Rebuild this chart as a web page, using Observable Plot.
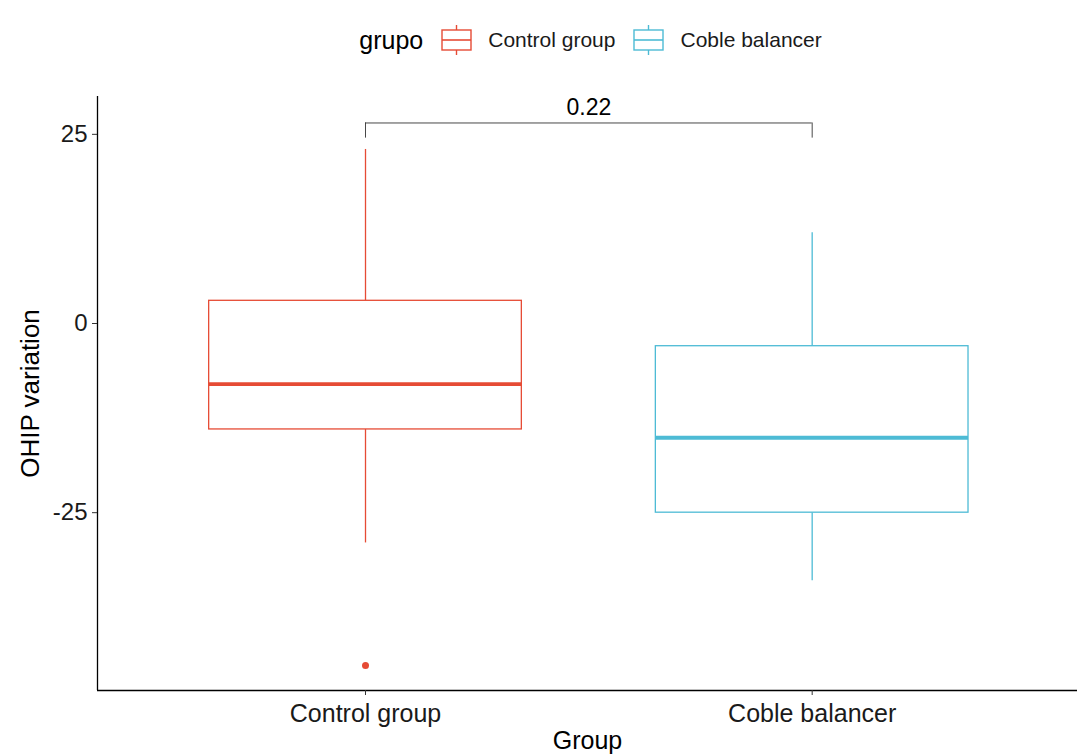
<!DOCTYPE html>
<html>
<head>
<meta charset="utf-8">
<script src="https://cdn.jsdelivr.net/npm/d3@7"></script>
<script src="https://cdn.jsdelivr.net/npm/@observablehq/plot@0.6"></script>
<style>
  body { margin: 0; background: #fff; font-family: "Liberation Sans", Arial, sans-serif; }
  #legend { height: 70px; padding-top: 10px; box-sizing: border-box; display: flex; align-items: center; justify-content: center; padding-left: 122px; }
  #legend .title { font-size: 25px; color: #000; margin-right: 18px; }
  #legend .item { display: flex; align-items: center; font-size: 21px; color: #1a1a1a; margin-right: 18px; }
  #legend svg { margin-right: 16px; }
</style>
</head>
<body>
<div id="legend"></div>
<div id="chart"></div>
<script>
// Data
const groups = ["Control group", "Coble balancer"];
const colors = ["#E64B35", "#4DBBD5"];
const q1 = [-14, -25];
const median = [-8, -15.1];
const q3 = [3, -3];
const whiskerLow = [-29, -34];
const whiskerHigh = [23, 12];
const outlierGroup = ["Control group"];
const outlierValue = [-45.2];
const pLabel = "0.22";
const yTicks = [-25, 0, 25];

const boxes = groups.map((g, i) => ({
  group: g, pos: i + 1, q1: q1[i], med: median[i], q3: q3[i],
  lo: whiskerLow[i], hi: whiskerHigh[i], color: colors[i]
}));
const outliers = outlierGroup.map((g, i) => ({
  pos: groups.indexOf(g) + 1, value: outlierValue[i], color: colors[groups.indexOf(g)]
}));
const bracketY = 26.5, bracketTip = 24.5;

// Legend (HTML)
const legend = document.getElementById("legend");
legend.innerHTML = `<span class="title">grupo</span>` + groups.map((g, i) =>
  `<span class="item"><svg width="31" height="32" viewBox="0 0 31 32">
     <line x1="15.5" y1="1" x2="15.5" y2="6" stroke="${colors[i]}" stroke-width="1.4"/>
     <line x1="15.5" y1="26" x2="15.5" y2="31" stroke="${colors[i]}" stroke-width="1.4"/>
     <rect x="1" y="6" width="29" height="20" fill="none" stroke="${colors[i]}" stroke-width="1.4"/>
     <line x1="1" y1="16" x2="30" y2="16" stroke="${colors[i]}" stroke-width="1.6"/>
   </svg>${g}</span>`).join("");

const chart = Plot.plot({
  width: 1077,
  height: 686,
  marginTop: 26,
  marginBottom: 66,
  marginLeft: 97,
  marginRight: 0,
  style: { fontFamily: "Liberation Sans, Arial, sans-serif", background: "white", overflow: "visible" },
  x: { domain: [0.4, 2.594], axis: null },
  y: { domain: [-48.5, 30], axis: null },
  marks: [
    // axes lines
    Plot.ruleX([0.4], { stroke: "#000", strokeWidth: 1.3 }),
    Plot.ruleY([-48.5], { stroke: "#000", strokeWidth: 1.3 }),
    Plot.axisY(yTicks, {
      tickSize: 5, tickPadding: 5, fontSize: 24, fill: "#1a1a1a",
      tickFormat: d => String(d), label: null, stroke: "#333"
    }),
    Plot.axisX([1, 2], {
      tickSize: 5, tickPadding: 9, fontSize: 25, fill: "#1a1a1a",
      tickFormat: d => groups[d - 1], label: null, stroke: "#333"
    }),
    Plot.text(["OHIP variation"], {
      frameAnchor: "left", textAnchor: "middle", rotate: -90, dx: -67, fontSize: 26, fill: "#000"
    }),
    Plot.text(["Group"], {
      frameAnchor: "bottom", lineAnchor: "middle", dy: 50, fontSize: 25, fill: "#000"
    }),
    // whiskers
    Plot.ruleX(boxes, { x: "pos", y1: "q3", y2: "hi", stroke: "color", strokeWidth: 1.3 }),
    Plot.ruleX(boxes, { x: "pos", y1: "lo", y2: "q1", stroke: "color", strokeWidth: 1.3 }),
    // boxes
    Plot.rect(boxes, {
      x1: d => d.pos - 0.35, x2: d => d.pos + 0.35, y1: "q1", y2: "q3",
      fill: "white", stroke: "color", strokeWidth: 1.3
    }),
    // medians
    Plot.ruleY(boxes, {
      x1: d => d.pos - 0.35, x2: d => d.pos + 0.35, y: "med", stroke: "color", strokeWidth: 3.8
    }),
    // outliers
    Plot.dot(outliers, { x: "pos", y: "value", r: 3.5, fill: "color", stroke: null }),
    // significance bracket
    Plot.ruleY([bracketY], { x1: 1, x2: 2, stroke: "#333", strokeWidth: 0.9 }),
    Plot.ruleX([1, 2], { y1: bracketTip, y2: bracketY, stroke: "#333", strokeWidth: 0.9 }),
    Plot.text([pLabel], { x: 1.5, y: bracketY, dy: -15, fontSize: 23, fill: "#000" })
  ]
});
document.getElementById("chart").appendChild(chart);
</script>
</body>
</html>
